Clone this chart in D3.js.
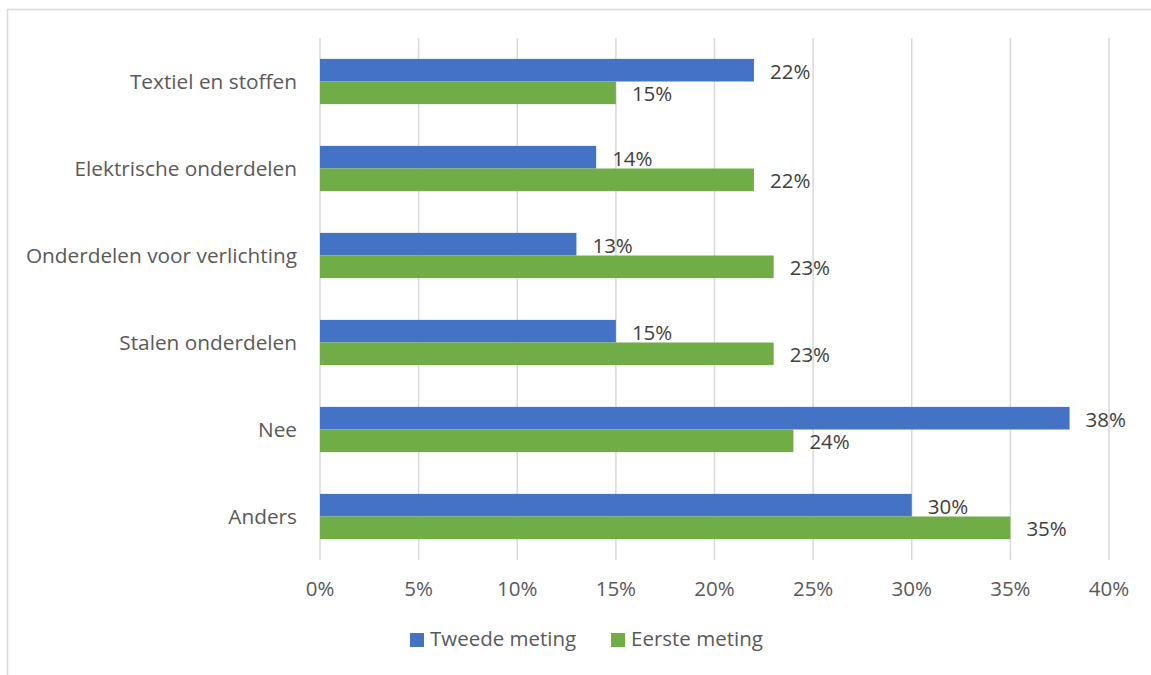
<!DOCTYPE html>
<html><head><meta charset="utf-8">
<script src="https://cdn.jsdelivr.net/npm/d3@7"></script>
<style>body{margin:0;background:#fff;}svg{display:block;}text{font-family:"Open Sans",sans-serif;fill:#595959;}</style>
</head><body><svg id="c" width="1151" height="675"></svg>
<script>
const categories = ["Textiel en stoffen","Elektrische onderdelen","Onderdelen voor verlichting","Stalen onderdelen","Nee","Anders"];
const tweede = [22,14,13,15,38,30];
const eerste = [15,22,23,23,24,35];
const ticks = [0,5,10,15,20,25,30,35,40];
const seriesNames = ["Tweede meting","Eerste meting"];
const colors = ["#4472C4","#70AD47"];

const svg = d3.select("#c");
svg.append("rect").attr("x",7.5).attr("y",9.5).attr("width",1160).attr("height",680).attr("fill","none").attr("stroke","#d9d9d9").attr("stroke-width",1.5);

const x = d3.scaleLinear().domain([0,40]).range([320,1109]);
const y = d3.scaleBand().domain(categories).range([38,560]).paddingInner(0.48).paddingOuter(0.24);
const inner = d3.scaleBand().domain(seriesNames).range([0,y.bandwidth()]);

const g = svg.append("g");
g.selectAll("line.grid").data(ticks).join("line").attr("class","grid")
 .attr("x1",d=>x(d)).attr("x2",d=>x(d)).attr("y1",38).attr("y2",560)
 .attr("stroke","#d9d9d9").attr("stroke-width",1.5);

const data = [];
categories.forEach((c,i)=>{data.push({c,s:seriesNames[0],v:tweede[i],col:colors[0]});data.push({c,s:seriesNames[1],v:eerste[i],col:colors[1]});});

g.selectAll("rect.bar").data(data).join("rect").attr("class","bar")
 .attr("x",x(0)).attr("y",d=>y(d.c)+inner(d.s)).attr("width",d=>x(d.v)-x(0)).attr("height",inner.bandwidth())
 .attr("fill",d=>d.col);

g.selectAll("text.lbl").data(data).join("text").attr("class","lbl")
 .attr("x",d=>x(d.v)+16).attr("y",d=>y(d.c)+inner(d.s)+inner.bandwidth()/2+3)
 .attr("dominant-baseline","middle").attr("font-size",20.5).style("fill","#404040").text(d=>d.v+"%");

g.selectAll("text.cat").data(categories).join("text").attr("class","cat")
 .attr("x",297).attr("y",d=>y(d)+y.bandwidth()/2+2).attr("text-anchor","end")
 .attr("dominant-baseline","middle").attr("font-size",20.8).text(d=>d);

g.selectAll("text.tick").data(ticks).join("text").attr("class","tick")
 .attr("x",d=>x(d)).attr("y",591).attr("text-anchor","middle").attr("dominant-baseline","middle")
 .attr("font-size",20.5).text(d=>d+"%");

const leg = svg.append("g");
const legX = [410,611];
seriesNames.forEach((s,i)=>{
  leg.append("rect").attr("x",legX[i]).attr("y",633).attr("width",14).attr("height",14).attr("fill",colors[i]);
  leg.append("text").attr("x",legX[i]+20).attr("y",641).attr("dominant-baseline","middle").attr("font-size",20.5).text(s);
});
</script></body></html>
